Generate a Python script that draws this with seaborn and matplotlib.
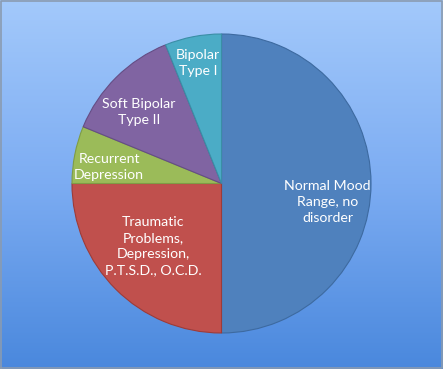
import numpy as np
import seaborn as sns
import matplotlib.pyplot as plt
from matplotlib.colors import LinearSegmentedColormap

sns.set_theme(style="white")
plt.rcParams['font.family'] = ['Lato', 'DejaVu Sans']

# data (percent, clockwise from 12 o'clock)
labels = ["Normal Mood\nRange, no\ndisorder",
          "Traumatic\nProblems,\nDepression,\nP.T.S.D., O.C.D.",
          "Recurrent\nDepression",
          "Soft Bipolar\nType II",
          "Bipolar\nType I"]
values = [50, 25, 6.2, 12.7, 6.1]
colors = ["#4f81bd", "#c0504d", "#9bbb59", "#8064a2", "#4bacc6"]
edges = ["#3d6aa0", "#9e3b38", "#7f9c45", "#654d85", "#3a8ea6"]

# label placement: radius (fraction) and angle nudge (deg) from wedge middle
lab_r = [0.72, 0.62, 0.76, 0.73, 0.82]
lab_nudge = [-10, -2.5, 2.6, 4.2, 0.1]

fig = plt.figure(figsize=(4.43, 3.69), dpi=100)

# gradient background
bg = fig.add_axes([0, 0, 1, 1])
cmap = LinearSegmentedColormap.from_list("bg", ["#a3c9fb", "#7cacf2", "#4a88dd"])
grad = np.linspace(0, 1, 256).reshape(-1, 1)
bg.imshow(grad, aspect="auto", cmap=cmap, extent=[0, 1, 0, 1], origin="upper")
bg.set_xlim(0, 1)
bg.set_ylim(0, 1)
bg.axis("off")
bg.plot([0.003, 0.003, 0.997, 0.997, 0.003], [0.003, 0.997, 0.997, 0.003, 0.003],
        color="#8a9bb0", lw=1.2)

ax = fig.add_axes([72 / 443, 36 / 369, 299 / 443, 299 / 369])
wedges, _ = ax.pie(values, colors=colors, startangle=90, counterclock=False,
                   radius=1, wedgeprops=dict(linewidth=0.8))
for w, ec in zip(wedges, edges):
    w.set_edgecolor(ec)

for w, lab, r, nd in zip(wedges, labels, lab_r, lab_nudge):
    mid = np.deg2rad((w.theta1 + w.theta2) / 2 + nd)
    ax.text(r * np.cos(mid), r * np.sin(mid), lab, ha="center", va="center",
            color="white", fontsize=10.2, linespacing=1.4)

ax.set_xlim(-1, 1)
ax.set_ylim(-1, 1)
ax.set_aspect("equal")
ax.axis("off")

fig.savefig("out.png", dpi=100)
